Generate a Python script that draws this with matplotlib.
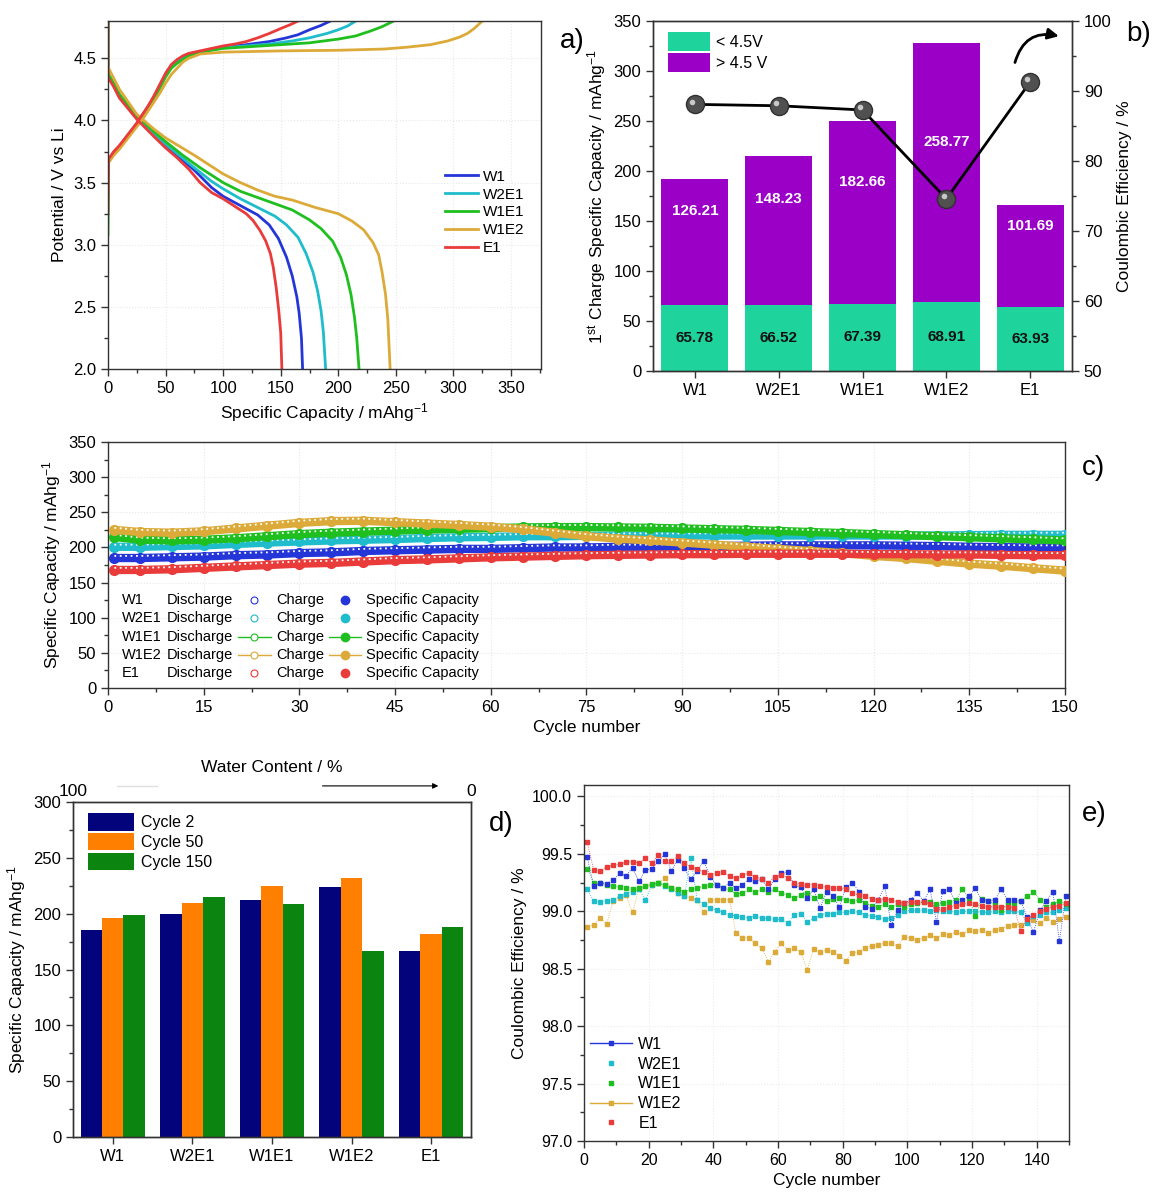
import numpy as np
import matplotlib
matplotlib.use('Agg')
import matplotlib.pyplot as plt
import matplotlib.transforms as mtransforms
from matplotlib.lines import Line2D
from matplotlib.ticker import MultipleLocator, FormatStrFormatter

plt.rcParams['font.family'] = ['Liberation Sans', 'DejaVu Sans']
plt.rcParams['mathtext.fontset'] = 'custom'
plt.rcParams['mathtext.rm'] = 'Liberation Sans'
plt.rcParams['mathtext.it'] = 'Liberation Sans:italic'
plt.rcParams['mathtext.default'] = 'regular'
plt.rcParams['axes.edgecolor'] = '#333333'
plt.rcParams['axes.linewidth'] = 1.0

samples = ['W1', 'W2E1', 'W1E1', 'W1E2', 'E1']
colors = ['#2536d8', '#1fbccb', '#1fbf1f', '#dcaa38', '#ea3b3b']

# ---- a) first charge / discharge curves ----
chg_cap_W1 = [0, 0.5, 5, 10, 15, 20, 25, 30, 35, 40, 45, 50, 55, 60, 65, 70, 80, 90, 100,
              120, 140, 155, 165, 175, 185, 193]
chg_v_W1 = [3.55, 3.68, 3.74, 3.79, 3.85, 3.91, 3.97, 4.04, 4.11, 4.19, 4.28, 4.37, 4.44, 4.48,
            4.51, 4.53, 4.555, 4.57, 4.59, 4.61, 4.635, 4.665, 4.69, 4.73, 4.765, 4.80]
chg_cap_W2E1 = [0, 0.5, 5, 10, 15, 20, 25, 30, 35, 40, 45, 50, 55, 60, 65, 70, 80, 90, 100,
                120, 140, 160, 175, 190, 200, 208, 215]
chg_v_W2E1 = [3.50, 3.68, 3.74, 3.79, 3.85, 3.91, 3.97, 4.03, 4.10, 4.18, 4.27, 4.36, 4.43, 4.47,
              4.50, 4.52, 4.55, 4.57, 4.585, 4.60, 4.615, 4.64, 4.665, 4.70, 4.73, 4.76, 4.80]
chg_cap_W1E1 = [0, 0.5, 5, 10, 15, 20, 25, 30, 35, 40, 45, 50, 55, 60, 65, 70, 80, 90, 100,
                125, 150, 175, 200, 215, 228, 238, 248]
chg_v_W1E1 = [3.08, 3.67, 3.73, 3.78, 3.84, 3.90, 3.96, 4.02, 4.09, 4.17, 4.26, 4.35, 4.42, 4.46,
              4.49, 4.52, 4.55, 4.565, 4.58, 4.595, 4.61, 4.625, 4.655, 4.68, 4.72, 4.755, 4.80]
chg_cap_W1E2 = [0, 0.5, 5, 10, 15, 20, 25, 30, 35, 40, 45, 50, 55, 60, 65, 70, 80, 100, 150,
                200, 240, 260, 280, 295, 305, 312, 318, 325]
chg_v_W1E2 = [3.45, 3.66, 3.72, 3.77, 3.83, 3.89, 3.95, 4.01, 4.08, 4.15, 4.22, 4.30, 4.37, 4.42,
              4.47, 4.50, 4.535, 4.55, 4.56, 4.565, 4.575, 4.59, 4.61, 4.64, 4.67, 4.70, 4.74, 4.80]
chg_cap_E1 = [0, 0.5, 5, 10, 15, 20, 25, 30, 35, 40, 45, 50, 55, 60, 65, 70, 80, 90, 100,
              110, 120, 130, 140, 150, 158, 165]
chg_v_E1 = [3.25, 3.69, 3.75, 3.80, 3.86, 3.92, 3.98, 4.05, 4.12, 4.20, 4.29, 4.38, 4.45, 4.49,
            4.52, 4.54, 4.56, 4.58, 4.60, 4.615, 4.635, 4.665, 4.70, 4.74, 4.77, 4.80]

dis_cap_W1 = [0, 0, 5, 10, 25, 40, 50, 65, 75, 90, 100, 110, 120, 130, 140, 148, 155, 160,
              164, 166, 168, 169]
dis_v_W1 = [4.80, 4.36, 4.28, 4.19, 4.02, 3.88, 3.80, 3.68, 3.60, 3.46, 3.39, 3.34, 3.29, 3.24,
            3.16, 3.05, 2.90, 2.75, 2.58, 2.45, 2.25, 2.00]
dis_cap_W2E1 = [0, 0, 5, 10, 25, 40, 50, 75, 90, 100, 115, 130, 145, 155, 165, 172, 178, 182,
                185, 187, 189]
dis_v_W2E1 = [4.80, 4.37, 4.29, 4.20, 4.03, 3.89, 3.81, 3.62, 3.51, 3.45, 3.37, 3.30, 3.23, 3.16,
              3.06, 2.93, 2.78, 2.63, 2.47, 2.30, 2.00]
dis_cap_W1E1 = [0, 0, 5, 10, 25, 40, 50, 65, 80, 100, 115, 130, 145, 160, 175, 185, 195, 202,
                207, 211, 214, 216, 218]
dis_v_W1E1 = [4.80, 4.38, 4.30, 4.21, 4.04, 3.91, 3.83, 3.72, 3.62, 3.50, 3.43, 3.38, 3.33, 3.28,
              3.20, 3.13, 3.03, 2.90, 2.76, 2.60, 2.42, 2.25, 2.00]
dis_cap_W1E2 = [0, 0, 5, 10, 25, 40, 50, 75, 100, 115, 130, 145, 160, 180, 200, 212, 222, 230,
                235, 238, 241, 243, 244, 245]
dis_v_W1E2 = [4.80, 4.43, 4.34, 4.25, 4.05, 3.93, 3.86, 3.72, 3.57, 3.50, 3.44, 3.39, 3.36, 3.30,
              3.25, 3.19, 3.12, 3.02, 2.92, 2.78, 2.60, 2.40, 2.20, 2.00]
dis_cap_E1 = [0, 0, 5, 10, 25, 40, 50, 60, 70, 80, 90, 100, 110, 120, 126, 132, 137, 141, 143.5,
              146, 148.3, 150, 151]
dis_v_E1 = [4.80, 4.35, 4.27, 4.18, 4.01, 3.87, 3.78, 3.70, 3.61, 3.50, 3.42, 3.37, 3.31, 3.25,
            3.195, 3.115, 3.03, 2.93, 2.82, 2.66, 2.47, 2.29, 2.00]

# ---- b) first charge capacity split and first cycle CE ----
cap_below_45 = [65.78, 66.52, 67.39, 68.91, 63.93]
cap_above_45 = [126.21, 148.23, 182.66, 258.77, 101.69]
above_label_y = [160, 172, 189, 229, 145]
ce_first = [88.1, 87.9, 87.3, 74.6, 91.3]

# ---- c) cycling ----
cycles_c = [1, 5, 10, 15, 20, 25, 30, 35, 40, 45, 50, 55, 60, 65, 70, 75,
            80, 85, 90, 95, 100, 105, 110, 115, 120, 125, 130, 135, 140, 145, 150]
cap_W1 = [185, 185, 186, 187, 189, 190, 192, 193, 195, 196, 197, 198, 198, 199, 200, 200,
          201, 201, 201.5, 202, 202.5, 203, 203, 203, 203, 202.5, 202, 201, 200.5, 200, 200]
cap_W2E1 = [201, 201, 202, 203, 205, 207, 208.5, 210, 211, 212, 213.5, 214.5, 215, 216, 216, 216.5,
            217, 217, 217, 217, 217, 217, 217, 217, 217, 217, 217, 217.5, 218, 218, 218]
cap_W1E1 = [215, 211, 210, 211, 213, 216, 219, 221, 222.5, 224, 225.5, 226.5, 227.5, 228.5, 229, 229,
            228.5, 228, 227, 226, 225, 223.5, 222, 220.5, 219, 217.5, 216, 214.5, 213, 211.5, 210]
cap_W1E2 = [225, 222, 221, 223, 227, 231, 235, 237.5, 238, 236, 234, 232, 229.5, 226, 221, 216,
            212.5, 210, 207, 204, 201, 198, 195, 192, 188, 185, 181, 177, 174, 170.5, 167]
cap_E1 = [168, 168, 169, 171, 173, 175, 177, 178, 180, 182, 183, 184.5, 186, 187, 188, 189,
          189.5, 190, 190.5, 190.5, 191, 191, 191, 191, 190.5, 190.5, 190, 190, 189.5, 189, 189]
chg_W1 = [188, 188, 189, 190, 192, 193, 195, 196, 198, 199, 200, 201, 201, 202, 203, 203,
          204, 204, 204.5, 205, 205.5, 206, 206, 206, 206, 205.5, 205, 204, 203.5, 203, 203]
chg_W2E1 = [204, 204, 205, 206, 208, 210, 211.5, 213, 214, 215, 216.5, 217.5, 218, 219, 219, 219.5,
            220, 220, 220, 220, 220, 220, 220, 220, 220, 220, 220, 220.5, 221, 221, 221]
chg_W1E1 = [218, 214, 213, 214, 216, 219, 222, 224, 225.5, 227, 228.5, 229.5, 230.5, 231.5, 232, 232,
            231.5, 231, 230, 229, 228, 226.5, 225, 223.5, 222, 220.5, 219, 217.5, 216, 214.5, 213]
chg_W1E2 = [228, 225, 224, 226, 230, 234, 238, 240.5, 241, 239, 237, 235, 232.5, 229, 224, 219,
            215.5, 213, 210, 207, 204, 201, 198, 195, 191, 188, 184, 180, 177, 173.5, 170]
chg_E1 = [171, 171, 172, 174, 176, 178, 180, 181, 183, 185, 186, 187.5, 189, 190, 191, 192,
          192.5, 193, 193.5, 193.5, 194, 194, 194, 194, 193.5, 193.5, 193, 193, 192.5, 192, 192]

# ---- d) capacity at selected cycles ----
cap_cycle2 = [185, 200, 212.5, 224, 166.5]
cap_cycle50 = [196.5, 210, 225, 232, 182]
cap_cycle150 = [199, 215, 209, 166.5, 188]

# ---- e) coulombic efficiency (every 2nd cycle) ----
cycles_e = list(range(1, 150, 2))
ce_W1 = [99.47, 99.22, 99.25, 99.24, 99.27, 99.33, 99.31, 99.38, 99.26, 99.36,
         99.37, 99.44, 99.50, 99.35, 99.45, 99.38, 99.28, 99.35, 99.44, 99.30,
         99.23, 99.20, 99.25, 99.20, 99.23, 99.28, 99.26, 99.28, 99.19, 99.28,
         99.33, 99.34, 99.23, 99.21, 99.12, 99.19, 99.03, 99.17, 99.13, 99.04,
         99.21, 99.25, 99.17, 99.04, 99.02, 99.10, 99.22, 98.88, 99.01, 99.07,
         99.10, 99.16, 99.09, 99.19, 98.91, 99.18, 99.19, 99.07, 99.10, 99.13,
         99.20, 99.10, 99.09, 99.10, 99.19, 99.10, 99.10, 99.09, 98.95, 98.82,
         99.01, 99.09, 99.17, 98.74, 99.13]
ce_W2E1 = [99.19, 99.09, 99.08, 99.09, 99.10, 99.13, 99.15, 99.17, 99.19, 99.10,
           99.23, 99.25, 99.22, 99.19, 99.16, 99.13, 99.46, 99.10, 99.06, 99.03,
           99.01, 98.99, 98.97, 98.96, 98.95, 98.94, 98.96, 98.94, 98.94, 98.93,
           98.93, 98.90, 98.97, 98.98, 98.91, 98.94, 98.97, 98.98, 98.98, 98.99,
           98.99, 99.00, 98.99, 98.97, 98.96, 98.95, 98.93, 98.94, 98.97, 99.00,
           99.01, 99.01, 99.01, 99.00, 99.01, 99.00, 99.00, 98.99, 99.00, 99.00,
           99.00, 98.99, 98.99, 99.00, 98.99, 99.00, 99.00, 98.99, 98.90, 98.96,
           98.97, 98.99, 98.99, 99.01, 99.03]
ce_W1E1 = [99.37, 99.25, 99.25, 99.23, 99.22, 99.21, 99.20, 99.19, 99.20, 99.22,
           99.24, 99.25, 99.23, 99.20, 99.19, 99.17, 99.19, 99.20, 99.22, 99.23,
           99.23, 99.20, 99.19, 99.15, 99.16, 99.19, 99.17, 99.19, 99.17, 99.19,
           99.16, 99.14, 99.12, 99.14, 99.16, 99.12, 99.13, 99.09, 99.11, 99.12,
           99.10, 99.09, 99.10, 99.07, 99.05, 99.04, 99.06, 99.04, 99.06, 99.04,
           99.06, 99.07, 99.08, 99.08, 99.06, 99.07, 99.08, 99.10, 99.19, 99.12,
           98.96, 99.11, 99.09, 99.06, 99.01, 99.06, 99.07, 99.09, 99.13, 99.17,
           99.10, 99.04, 99.06, 99.09, 99.06]
ce_W1E2 = [98.86, 98.88, 98.94, 98.89, 99.09, 99.12, 99.14, 98.99, 99.20, 99.22,
           99.23, 99.25, 99.29, 99.20, 99.16, 99.13, 99.12, 99.10, 98.99, 99.10,
           99.10, 99.10, 99.10, 98.81, 98.77, 98.77, 98.72, 98.68, 98.56, 98.65,
           98.72, 98.66, 98.68, 98.65, 98.49, 98.67, 98.65, 98.66, 98.65, 98.61,
           98.57, 98.64, 98.65, 98.68, 98.70, 98.71, 98.72, 98.72, 98.70, 98.78,
           98.77, 98.75, 98.77, 98.79, 98.77, 98.80, 98.79, 98.82, 98.80, 98.84,
           98.83, 98.84, 98.81, 98.84, 98.85, 98.87, 98.88, 98.88, 98.91, 98.92,
           98.90, 98.94, 98.91, 98.93, 98.95]
ce_E1 = [99.60, 99.36, 99.35, 99.39, 99.40, 99.41, 99.43, 99.43, 99.42, 99.46,
         99.42, 99.49, 99.44, 99.44, 99.48, 99.42, 99.39, 99.37, 99.34, 99.32,
         99.33, 99.34, 99.31, 99.29, 99.32, 99.33, 99.30, 99.28, 99.25, 99.30,
         99.32, 99.29, 99.25, 99.24, 99.23, 99.23, 99.22, 99.21, 99.20, 99.20,
         99.19, 99.16, 99.14, 99.13, 99.11, 99.10, 99.11, 99.10, 99.08, 99.07,
         99.08, 99.08, 99.08, 99.06, 99.02, 99.02, 99.04, 99.05, 99.06, 99.07,
         99.06, 99.05, 99.04, 99.04, 99.04, 99.04, 99.03, 98.83, 98.93, 98.97,
         99.00, 99.02, 99.04, 99.05, 99.07]


def style(ax, size=12):
    ax.tick_params(which='both', direction='out', labelsize=size, width=1, color='#333333')
    ax.tick_params(which='major', length=5)
    ax.tick_params(which='minor', length=3)


fig = plt.figure(figsize=(11.56, 11.97), dpi=100)

# ================= a =================
axa = fig.add_axes([0.0934, 0.6917, 0.3746, 0.2907])
chg = [(chg_cap_W1, chg_v_W1), (chg_cap_W2E1, chg_v_W2E1), (chg_cap_W1E1, chg_v_W1E1),
       (chg_cap_W1E2, chg_v_W1E2), (chg_cap_E1, chg_v_E1)]
dis = [(dis_cap_W1, dis_v_W1), (dis_cap_W2E1, dis_v_W2E1), (dis_cap_W1E1, dis_v_W1E1),
       (dis_cap_W1E2, dis_v_W1E2), (dis_cap_E1, dis_v_E1)]
for name, col, c, d in zip(samples, colors, chg, dis):
    axa.plot(c[0], c[1], color=col, lw=2, solid_joinstyle='round')
    axa.plot(d[0], d[1], color=col, lw=2, label=name, solid_joinstyle='round')
axa.set_xlim(0, 376)
axa.set_ylim(2.0, 4.8)
axa.xaxis.set_major_locator(MultipleLocator(50))
axa.xaxis.set_minor_locator(MultipleLocator(25))
axa.yaxis.set_major_locator(MultipleLocator(0.5))
axa.yaxis.set_minor_locator(MultipleLocator(0.25))
axa.yaxis.set_major_formatter(FormatStrFormatter('%.1f'))
axa.grid(color='#e8e8e8', ls=':', lw=0.8)
style(axa)
axa.set_xlabel('Specific Capacity / mAhg$^{-1}$', fontsize=12.5)
axa.set_ylabel('Potential / V vs Li', fontsize=12.5)
axa.legend(loc='center left', bbox_to_anchor=(0.76, 0.45), frameon=False, fontsize=11,
           handlelength=2.2, labelspacing=0.25, handletextpad=0.3, borderpad=0)

# ================= b =================
axb = fig.add_axes([0.5649, 0.69, 0.3625, 0.2924])
xb = np.arange(len(samples))
axb.bar(xb, cap_below_45, 0.8, color='#1ed39c', label='< 4.5V')
axb.bar(xb, cap_above_45, 0.8, bottom=cap_below_45, color='#9a00c6', label='> 4.5 V')
for i in range(len(samples)):
    axb.text(xb[i], cap_below_45[i] / 2, f'{cap_below_45[i]:.2f}', ha='center', va='center',
             fontsize=11, fontweight='bold', color='#111111')
    axb.text(xb[i], above_label_y[i], f'{cap_above_45[i]:.2f}', ha='center', va='center',
             fontsize=11, fontweight='bold', color='white')
axb.set_xlim(-0.5, 4.5)
axb.set_ylim(0, 350)
axb.set_xticks(xb)
axb.set_xticklabels(samples)
axb.yaxis.set_major_locator(MultipleLocator(50))
axb.yaxis.set_minor_locator(MultipleLocator(25))
style(axb)
axb.tick_params(axis='x', which='minor', length=0)
axb.set_ylabel('1$^{st}$ Charge Specific Capacity / mAhg$^{-1}$', fontsize=12.5)
axb.legend(loc='upper left', bbox_to_anchor=(0.01, 1.0), frameon=False, fontsize=11.5,
           handlelength=2.6, handleheight=1.4, labelspacing=0.15, borderpad=0.2,
           handletextpad=0.4)
axb2 = axb.twinx()
axb2.plot(xb, ce_first, color='black', lw=2, marker='o', ms=13, mfc='#505050',
          mec='#303030', zorder=3)
# small highlight so the markers read as shaded spheres
shine = axb2.transData + mtransforms.ScaledTranslation(-2 / 72, 2 / 72, fig.dpi_scale_trans)
axb2.plot(xb, ce_first, ls='none', marker='o', ms=4, mfc='#c8c8c8', mec='none', zorder=4,
          transform=shine)
axb2.set_ylim(50, 100)
axb2.yaxis.set_major_locator(MultipleLocator(10))
axb2.yaxis.set_minor_locator(MultipleLocator(5))
style(axb2)
axb2.set_ylabel('Coulombic Efficiency / %', fontsize=12.5)
axb2.annotate('', xy=(0.975, 0.955), xytext=(0.862, 0.874), xycoords='axes fraction',
              arrowprops=dict(arrowstyle='-|>', color='black', lw=2, mutation_scale=16,
                              connectionstyle='arc3,rad=-0.5'))

# ================= c =================
axc = fig.add_axes([0.0934, 0.4252, 0.8279, 0.2055])
caps = [cap_W1, cap_W2E1, cap_W1E1, cap_W1E2, cap_E1]
chgs = [chg_W1, chg_W2E1, chg_W1E1, chg_W1E2, chg_E1]
for k, (name, col, cp, ch) in enumerate(zip(samples, colors, caps, chgs)):
    axc.plot(cycles_c, cp, color=col, lw=6, marker='o', ms=7, solid_capstyle='round',
             zorder=2 + k)
    axc.plot(cycles_c, ch, color='white', lw=1.3, ls=(0, (1, 2)), zorder=2 + k)
axc.set_xlim(0, 150)
axc.set_ylim(0, 350)
axc.xaxis.set_major_locator(MultipleLocator(15))
axc.xaxis.set_minor_locator(MultipleLocator(7.5))
axc.yaxis.set_major_locator(MultipleLocator(50))
axc.yaxis.set_minor_locator(MultipleLocator(25))
axc.grid(color='#e8e8e8', ls=':', lw=0.8)
style(axc)
axc.set_xlabel('Cycle number', fontsize=12.5)
axc.set_ylabel('Specific Capacity / mAhg$^{-1}$', fontsize=12.5)
# legend drawn as a table, like the original
for i, (name, col) in enumerate(zip(samples, colors)):
    y = 0.358 - 0.0745 * i
    kw = dict(transform=axc.transAxes, va='center', fontsize=10.5, zorder=10)
    axc.text(0.0146, y, name, **kw)
    axc.text(0.0617, y, 'Discharge', **kw)
    axc.text(0.1755, y, 'Charge', **kw)
    axc.text(0.270, y, 'Specific Capacity', **kw)
    if name in ('W1E1', 'W1E2'):
        axc.plot([0.136, 0.170], [y, y], transform=axc.transAxes, color=col, lw=1, zorder=10)
        axc.plot([0.231, 0.264], [y, y], transform=axc.transAxes, color=col, lw=1, zorder=10)
    axc.plot([0.153], [y], transform=axc.transAxes, marker='o', ms=5, mfc='white', mec=col,
             mew=0.8, zorder=11)
    axc.plot([0.2475], [y], transform=axc.transAxes, marker='o', ms=6, color=col, zorder=11)

# ================= d =================
axd = fig.add_axes([0.0631, 0.0501, 0.3443, 0.2799])
w = 0.27
xd = np.arange(len(samples))
axd.bar(xd - w, cap_cycle2, w, color='#03037c', label='Cycle 2')
axd.bar(xd, cap_cycle50, w, color='#ff8000', label='Cycle 50')
axd.bar(xd + w, cap_cycle150, w, color='#0b850f', label='Cycle 150')
axd.set_xlim(-0.5, 4.5)
axd.set_ylim(0, 300)
axd.set_xticks(xd)
axd.set_xticklabels(samples)
axd.yaxis.set_major_locator(MultipleLocator(50))
axd.yaxis.set_minor_locator(MultipleLocator(25))
style(axd)
axd.set_ylabel('Specific Capacity / mAhg$^{-1}$', fontsize=12.5)
axd.legend(loc='upper left', bbox_to_anchor=(0.01, 1.0), frameon=False, fontsize=11.5,
           handlelength=2.9, handleheight=1.3, labelspacing=0.15, borderpad=0.2,
           handletextpad=0.4)
axt = axd.twiny()
axt.set_xlim(0, 1)
axt.set_xticks([0, 1])
axt.set_xticklabels(['100', '0'])
axt.tick_params(length=0, pad=2, labelsize=12.5)
axt.set_xlabel('Water Content / %', fontsize=12.5, labelpad=9)
axd.annotate('', xy=(0.925, 1.048), xytext=(0.62, 1.048), xycoords='axes fraction',
             arrowprops=dict(arrowstyle='-|>', color='black', lw=0.8, mutation_scale=8))
axd.plot([0.11, 0.21], [1.048, 1.048], transform=axd.transAxes, color='#e0e0e0', lw=1,
         clip_on=False)

# ================= e =================
axe = fig.add_axes([0.5052, 0.0468, 0.4196, 0.2974])
ces = {'W1': ce_W1, 'W2E1': ce_W2E1, 'W1E1': ce_W1E1, 'W1E2': ce_W1E2, 'E1': ce_E1}
cmap = dict(zip(samples, colors))
for name in ['W1E2', 'W2E1', 'W1E1', 'W1', 'E1']:
    axe.plot(cycles_e, ces[name], color=cmap[name], marker='s', ms=3.2, ls=':', lw=0.6)
axe.set_xlim(0, 150)
axe.set_ylim(97.0, 100.1)
axe.xaxis.set_major_locator(MultipleLocator(20))
axe.xaxis.set_minor_locator(MultipleLocator(10))
axe.yaxis.set_major_locator(MultipleLocator(0.5))
axe.yaxis.set_minor_locator(MultipleLocator(0.25))
axe.yaxis.set_major_formatter(FormatStrFormatter('%.1f'))
axe.grid(color='#ececec', ls=':', lw=0.8)
style(axe, 11.5)
axe.set_xlabel('Cycle number', fontsize=12.5)
axe.set_ylabel('Coulombic Efficiency / %', fontsize=12.5)
handles = []
for name in samples:
    ls = '-' if name in ('W1', 'W1E2') else 'none'
    handles.append(Line2D([], [], color=cmap[name], marker='s', ms=3, lw=1, ls=ls))
axe.legend(handles, samples, loc='lower left', bbox_to_anchor=(0.0, 0.01), frameon=False,
           fontsize=11.5, handlelength=2.6, labelspacing=0.3, handletextpad=0.4,
           borderaxespad=0)

# panel labels
for lab, x, y in [('a)', 0.495, 0.966), ('b)', 0.985, 0.972), ('c)', 0.946, 0.609),
                  ('d)', 0.434, 0.312), ('e)', 0.947, 0.320)]:
    fig.text(x, y, lab, fontsize=20, ha='center', va='center')

fig.savefig('out.png', dpi=100)
